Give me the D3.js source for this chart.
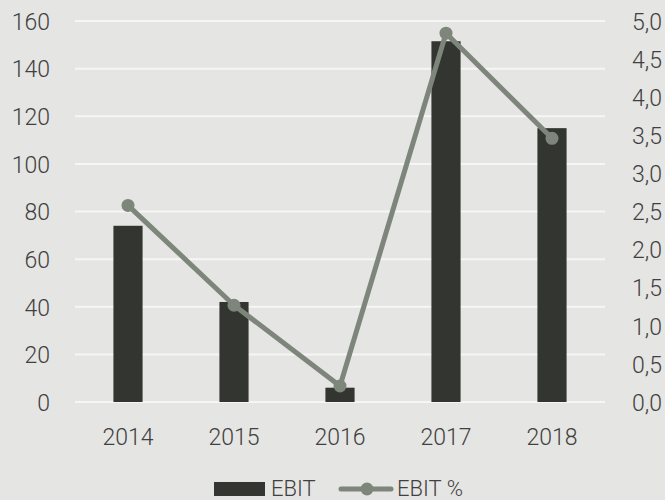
<!DOCTYPE html>
<html>
<head>
<meta charset="utf-8">
<script src="https://cdn.jsdelivr.net/npm/d3@7"></script>
<style>
  html, body { margin: 0; padding: 0; background: #e5e5e3; }
  svg { display: block; }
  text { font-family: Roboto, "Open Sans", sans-serif; font-weight: 300; fill: #404040; }
</style>
</head>
<body>
<svg id="chart" width="665" height="500"></svg>
<script>
// EBIT (left axis) and EBIT margin % (right axis) by year
const years = ["2014", "2015", "2016", "2017", "2018"];
const ebit = [74, 42, 6, 151.5, 115];
const ebitPct = [2.58, 1.27, 0.21, 4.84, 3.46];
const leftTicks = [0, 20, 40, 60, 80, 100, 120, 140, 160];
const rightTicks = [0, 0.5, 1, 1.5, 2, 2.5, 3, 3.5, 4, 4.5, 5];

const W = 665, H = 500;
const plot = { left: 75, right: 605, top: 21, bottom: 402 };
const barColor = "#323530";
const lineColor = "#7e867c";
const gridColor = "#f6f6f5";
const fontSize = 23;

const svg = d3.select("#chart");

const x = d3.scaleBand().domain(years).range([plot.left, plot.right]).paddingInner(0.725).paddingOuter(0.3625);
const yL = d3.scaleLinear().domain([0, 160]).range([plot.bottom, plot.top]);
const yR = d3.scaleLinear().domain([0, 5]).range([plot.bottom, plot.top]);
const cx = d => x(d) + x.bandwidth() / 2;

// gridlines
svg.append("g").selectAll("line").data(leftTicks).join("line")
  .attr("x1", plot.left).attr("x2", plot.right)
  .attr("y1", d => yL(d)).attr("y2", d => yL(d))
  .attr("stroke", gridColor).attr("stroke-width", 2);

function styleAxisText(g) {
  g.select(".domain").remove();
  g.selectAll("text").attr("font-size", fontSize)
    .style("font-family", "Roboto, sans-serif").style("font-weight", 300).attr("fill", "#404040");
}

// left axis labels
const axL = svg.append("g").attr("transform", `translate(${plot.left - 25},0)`)
  .call(d3.axisLeft(yL).tickValues(leftTicks).tickSize(0).tickPadding(0));
styleAxisText(axL);
axL.selectAll("text").attr("dy", "0.36em");

// right axis labels
const fmtComma = d => d3.format(".1f")(d).replace(".", ",");
const axR = svg.append("g").attr("transform", `translate(${plot.right + 27},0)`)
  .call(d3.axisRight(yR).tickValues(rightTicks).tickFormat(fmtComma).tickSize(0).tickPadding(0));
styleAxisText(axR);
axR.selectAll("text").attr("dy", "0.36em");

// x axis labels
const axX = svg.append("g").attr("transform", `translate(0,${plot.bottom + 43})`)
  .call(d3.axisBottom(x).tickSize(0).tickPadding(0));
styleAxisText(axX);
axX.selectAll("text").attr("dy", 0);

// bars
svg.append("g").selectAll("rect").data(years).join("rect")
  .attr("x", d => x(d)).attr("width", x.bandwidth())
  .attr("y", (d, i) => yL(ebit[i])).attr("height", (d, i) => yL(0) - yL(ebit[i]))
  .attr("fill", barColor);

// line + markers
const line = d3.line().x(d => cx(d[0])).y(d => yR(d[1]));
const pts = years.map((y, i) => [y, ebitPct[i]]);
svg.append("path").datum(pts).attr("d", line)
  .attr("fill", "none").attr("stroke", lineColor).attr("stroke-width", 5).attr("stroke-linejoin", "round");
svg.append("g").selectAll("circle").data(pts).join("circle")
  .attr("cx", d => cx(d[0])).attr("cy", d => yR(d[1])).attr("r", 6.5)
  .attr("fill", lineColor);

// legend
const lg = svg.append("g");
lg.append("rect").attr("x", 214).attr("y", 482).attr("width", 51).attr("height", 14).attr("fill", barColor);
lg.append("text").attr("x", 271).attr("y", 496).attr("font-size", 22).text("EBIT");
lg.append("line").attr("x1", 341).attr("x2", 391).attr("y1", 489).attr("y2", 489)
  .attr("stroke", lineColor).attr("stroke-width", 5).attr("stroke-linecap", "round");
lg.append("circle").attr("cx", 367).attr("cy", 489).attr("r", 6.5).attr("fill", lineColor);
lg.append("text").attr("x", 397).attr("y", 496).attr("font-size", 22).text("EBIT %");
</script>
</body>
</html>
